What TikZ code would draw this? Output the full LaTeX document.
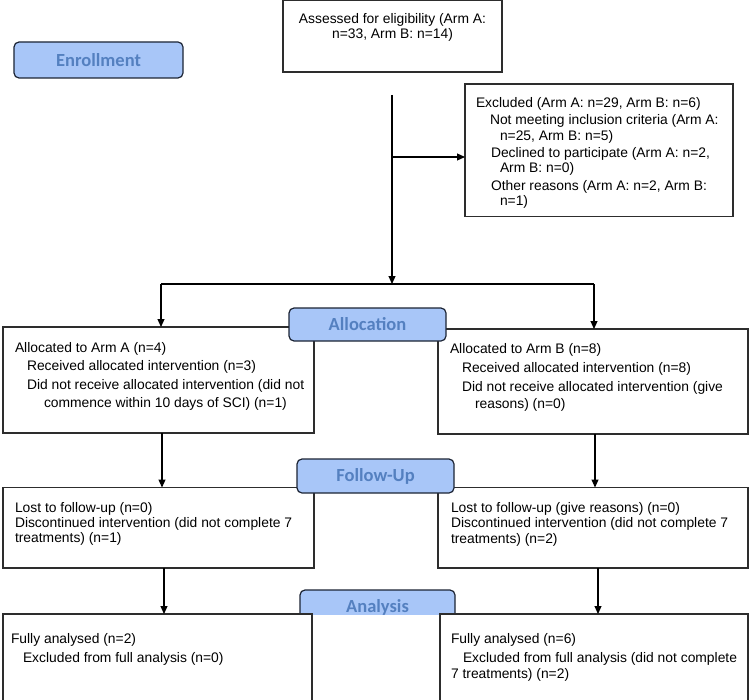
\documentclass[tikz,border=0pt]{standalone}
\usepackage{fontspec}
\setmainfont{Liberation Sans}
\newfontfamily\lblfont{Carlito}
\usetikzlibrary{arrows.meta}
\definecolor{lblfill}{RGB}{168,198,248}
\definecolor{lbltext}{RGB}{84,128,192}
\definecolor{lbldraw}{RGB}{28,36,52}
\definecolor{boxdraw}{RGB}{45,45,45}
\tikzset{
  box/.style={draw=boxdraw, line width=1.1bp, fill=white, inner sep=0pt, outer sep=0pt, anchor=north west},
  lbl/.style={draw=lbldraw, line width=1.2bp, fill=lblfill, rounded corners=5bp, inner sep=0pt, outer sep=0pt,
    text=lbltext, font=\lblfont\bfseries\fontsize{18.5bp}{20bp}\selectfont},
  txt/.style={inner sep=0pt, outer sep=0pt, anchor=base west, font=\fontsize{13.85bp}{16bp}\selectfont, text=black},
  ctxt/.style={txt, anchor=base},
  arr/.style={line width=1.1bp, draw=black, -{Triangle[length=8bp,width=7bp]}},
  ln/.style={line width=1.1bp, draw=black}
}
\newcommand\mybox[5]{\node[box,minimum width=#4bp,minimum height=#5bp] (#1) at (#2,#3) {};}
\newcommand\tl[4]{\node[txt] (#1) at (#2,#3) {#4};}
\begin{document}
\begin{tikzpicture}[x=1bp,y=-1bp]
\useasboundingbox (0,0) rectangle (750,700);
% boxes
\mybox{asm}{283}{0.8}{219}{71.2}
\mybox{exc}{465}{84}{268}{132.5}
\mybox{alA}{3}{327}{311}{106}
\mybox{alB}{438}{329}{310}{105}
\mybox{fuA}{3}{487.5}{311}{80.5}
\mybox{fuB}{438}{487.5}{310}{80.5}
% texts
\node[ctxt] (t1) at (392.5,24) {Assessed for eligibility (Arm A:};
\node[ctxt] (t2) at (392.5,39) {n=33, Arm B: n=14)};
\tl{e1}{476}{108}{Excluded (Arm A: n=29, Arm B: n=6)}
\tl{e2}{490}{125}{Not meeting inclusion criteria (Arm A:}
\tl{e3}{500}{141}{n=25, Arm B: n=5)}
\tl{e4}{491}{157}{Declined to participate (Arm A: n=2,}
\tl{e5}{500}{172.5}{Arm B: n=0)}
\tl{e6}{491}{190}{Other reasons (Arm A: n=2, Arm B:}
\tl{e7}{500}{205}{n=1)}
\tl{a1}{15}{352}{Allocated to Arm A (n=4)}
\tl{a2}{27}{370}{Received allocated intervention (n=3)}
\tl{a3}{27}{389}{Did not receive allocated intervention (did not}
\tl{a4}{44}{407}{commence within 10 days of SCI) (n=1)}
\tl{b1}{450}{353}{Allocated to Arm B (n=8)}
\tl{b2}{462}{372}{Received allocated intervention (n=8)}
\tl{b3}{462}{391}{Did not receive allocated intervention (give}
\tl{b4}{475}{408}{reasons) (n=0)}
\tl{f1}{15}{512}{Lost to follow-up (n=0)}
\tl{f2}{15}{527}{Discontinued intervention (did not complete 7}
\tl{f3}{15}{542}{treatments) (n=1)}
\tl{g1}{451}{512}{Lost to follow-up (give reasons) (n=0)}
\tl{g2}{451}{527}{Discontinued intervention (did not complete 7}
\tl{g3}{451}{543}{treatments) (n=2)}
% connectors
\coordinate (top) at (392,95);
\coordinate (br) at (392,157);
\coordinate (jn) at (392,284);
\coordinate (jl) at (161,284);
\coordinate (jr) at (594,284);
\coordinate (ml) at (162,433);
\coordinate (mr) at (595,434);
\coordinate (ll) at (164,568);
\coordinate (lr) at (598,568);
\draw[arr] (top) -- (jn);
\draw[arr] (br) -- (br -| exc.west);
\draw[ln] (jl) -- (jr);
\draw[arr] (jl) -- (jl |- alA.north);
\draw[arr] (jr) -- (jr |- alB.north);
\draw[arr] (ml) -- (ml |- fuA.north);
\draw[arr] (mr) -- (mr |- fuB.north);
% stage labels
\node[lbl, minimum width=169bp, minimum height=36bp] (enr) at (98.5,60) {Enrollment};
\node[lbl, minimum width=157bp, minimum height=33bp] (alc) at (367.5,324.5) {Allocation};
\node[lbl, minimum width=157bp, minimum height=34bp] (fol) at (375.5,476) {Follow-Up};
\begin{scope}
  \clip (0,0) rectangle (750,614);
  \node[lbl, minimum width=155bp, minimum height=48bp] (anl) at (377.5,614) {};
  \node[inner sep=0pt, text=lbltext, font=\lblfont\bfseries\fontsize{18.5bp}{20bp}\selectfont, anchor=base] (anltxt) at (377.5,612) {Analysis};
\end{scope}
\mybox{anA}{3}{614}{309}{90}
\mybox{anB}{440}{614}{308}{90}
\draw[arr] (ll) -- (ll |- anA.north);
\draw[arr] (lr) -- (lr |- anB.north);
\tl{h1}{11}{643}{Fully analysed (n=2)}
\tl{h2}{23}{662}{Excluded from full analysis (n=0)}
\tl{k1}{451}{643}{Fully analysed (n=6)}
\tl{k2}{463}{662}{Excluded from full analysis (did not complete}
\tl{k3}{451}{678}{7 treatments) (n=2)}
\end{tikzpicture}
\end{document}
